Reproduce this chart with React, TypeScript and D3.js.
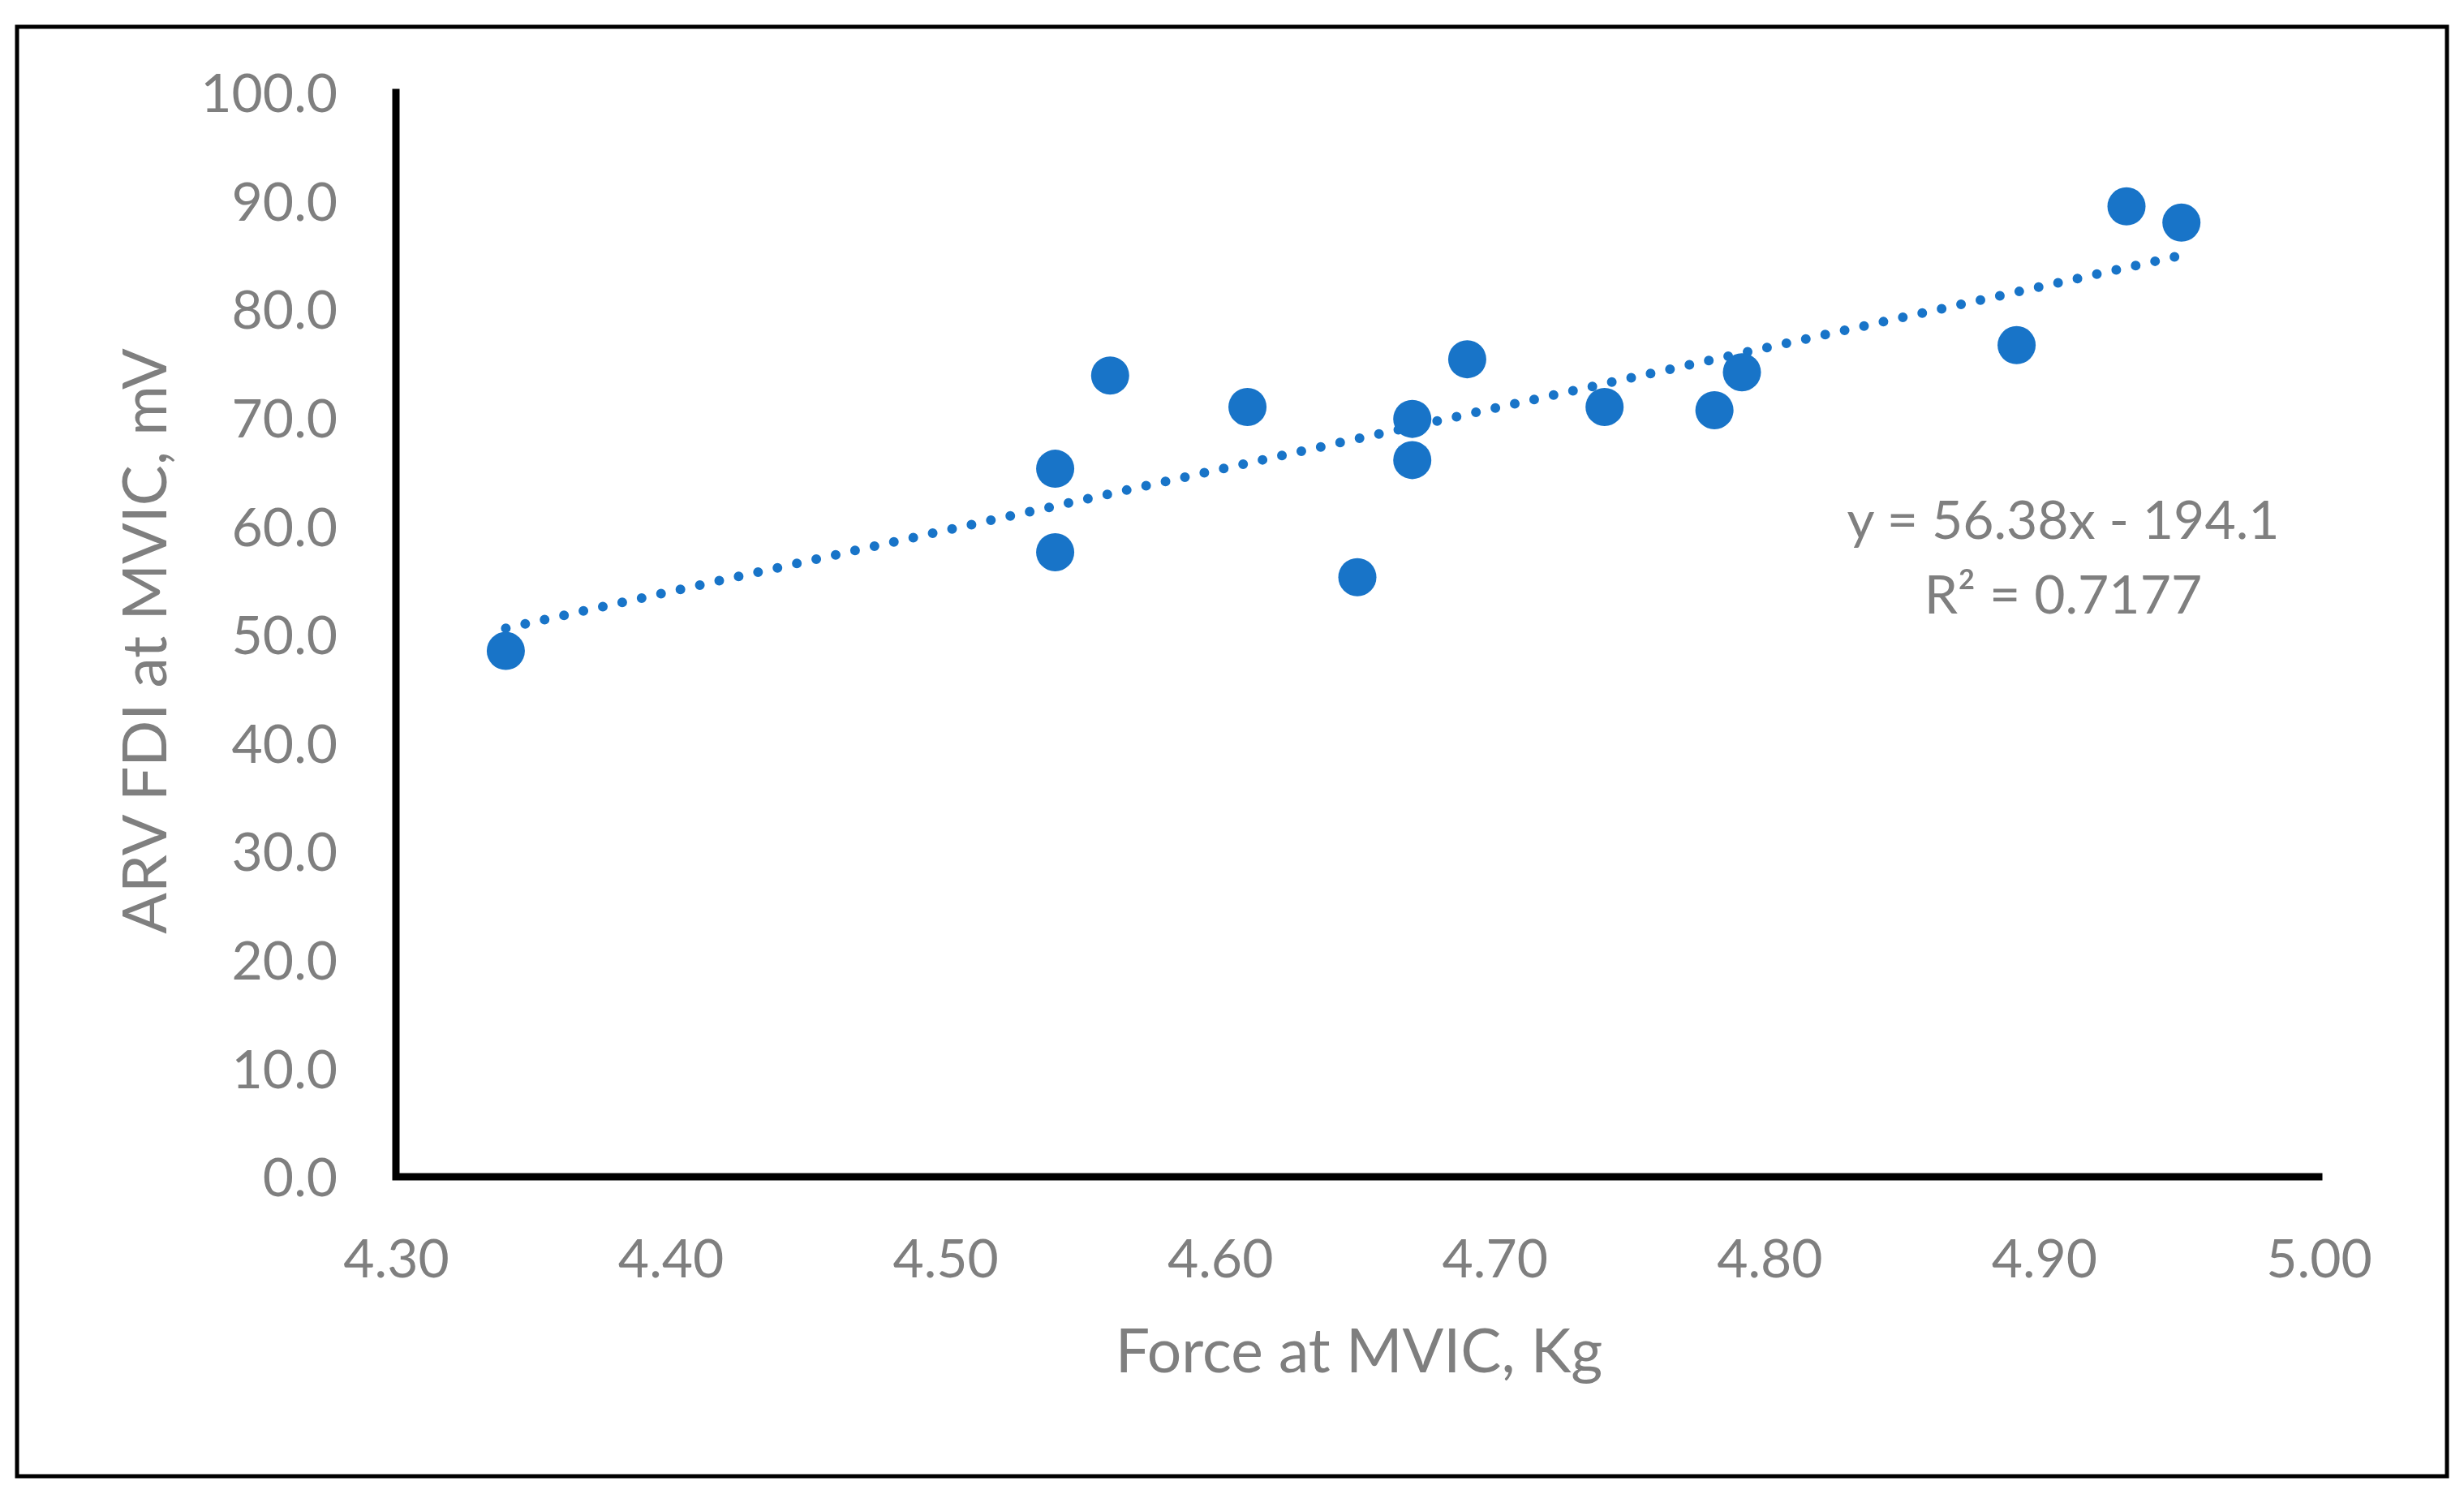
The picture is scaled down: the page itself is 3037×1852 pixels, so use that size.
import React, { useEffect, useRef } from 'react'
import * as d3 from 'd3'

type TPoint = {
  force: number
  arv: number
}

const forceValues = [4.34, 4.54, 4.54, 4.56, 4.61, 4.65, 4.67, 4.67, 4.69, 4.74, 4.78, 4.79, 4.89, 4.93, 4.95]
const arvValues = [48.5, 65.3, 57.6, 73.9, 71.0, 55.3, 69.9, 66.1, 75.4, 71.0, 70.7, 74.2, 76.7, 89.5, 88.0]
const xTicks = [4.3, 4.4, 4.5, 4.6, 4.7, 4.8, 4.9, 5.0]
const yTicks = [0, 10, 20, 30, 40, 50, 60, 70, 80, 90, 100]
const trendSlope = 56.38
const trendIntercept = -194.1
const equationLines = ['y = 56.38x - 194.1', 'R² = 0.7177']

const WIDTH = 3037
const HEIGHT = 1852
const margin = { left: 488, right: 3037 - 2858, top: 114, bottom: 1852 - 1450 }
const BLUE = '#1874C8'
const GREY = '#7F7F7F'
const FONT = 'Lato, "Open Sans", sans-serif'

const App = (): JSX.Element => {
  const ref = useRef<SVGSVGElement>(null)

  useEffect(() => {
    const data: TPoint[] = forceValues.map((f, i) => ({ force: f, arv: arvValues[i] }))
    const svg = d3.select(ref.current)
    svg.selectAll('*').remove()

    const x = d3.scaleLinear().domain([4.3, 5.0]).range([margin.left, WIDTH - margin.right])
    const y = d3.scaleLinear().domain([0, 100]).range([HEIGHT - margin.bottom, margin.top])

    svg
      .append('rect')
      .attr('width', WIDTH)
      .attr('height', HEIGHT)
      .attr('fill', '#ffffff')
    // outer chart border
    svg
      .append('rect')
      .attr('x', 21)
      .attr('y', 33)
      .attr('width', 2995)
      .attr('height', 1786)
      .attr('fill', 'none')
      .attr('stroke', '#000')
      .attr('stroke-width', 5)

    // y axis labels
    svg
      .append('g')
      .attr('transform', 'translate(' + margin.left + ',0)')
      .call(g => {
        g.call(d3.axisLeft(y).tickValues(yTicks).tickSize(0).tickPadding(72).tickFormat(d3.format('.1f')))
        g.select('.domain').remove()
        g.selectAll('.tick text')
          .attr('fill', GREY)
          .attr('font-family', FONT)
          .attr('font-size', 66)
          .attr('dy', '0.36em')
      })

    // x axis labels
    svg
      .append('g')
      .attr('transform', 'translate(0,' + y(0) + ')')
      .call(g => {
        g.call(d3.axisBottom(x).tickValues(xTicks).tickSize(0).tickPadding(0).tickFormat(d3.format('.2f')))
        g.select('.domain').remove()
        g.selectAll('.tick text')
          .attr('fill', GREY)
          .attr('font-family', FONT)
          .attr('font-size', 66)
          .attr('dy', 0)
          .attr('y', 124)
      })

    // axis lines
    svg
      .append('path')
      .attr('d', d3.line()([[x(4.3), y(100)], [x(4.3), y(0)], [x(5.0), y(0)]]))
      .attr('fill', 'none')
      .attr('stroke', '#000')
      .attr('stroke-width', 9)
      .attr('stroke-linecap', 'square')

    // trendline
    const [minF, maxF] = d3.extent(data, d => d.force) as [number, number]
    svg
      .append('path')
      .datum([minF, maxF])
      .attr('fill', 'none')
      .attr('stroke', BLUE)
      .attr('stroke-width', 12)
      .attr('stroke-linecap', 'round')
      .attr('stroke-dasharray', '0 24.5')
      .attr(
        'd',
        d3
          .line<number>()
          .x(d => x(d))
          .y(d => y(trendSlope * d + trendIntercept)),
      )

    svg
      .append('g')
      .selectAll('circle')
      .data(data)
      .join('circle')
      .attr('cx', d => x(d.force))
      .attr('cy', d => y(d.arv))
      .attr('r', 23.5)
      .attr('fill', BLUE)

    // equation label
    svg
      .append('text')
      .attr('text-anchor', 'middle')
      .attr('fill', GREY)
      .attr('font-family', FONT)
      .attr('font-size', 66)
      .selectAll('tspan')
      .data(equationLines)
      .join('tspan')
      .attr('x', 2543)
      .attr('y', (d, i) => 664 + i * 92)
      .text(d => d)

    svg
      .append('text')
      .attr('transform', 'translate(205,' + (y(50) + 8) + ') rotate(-90)')
      .attr('text-anchor', 'middle')
      .attr('fill', GREY)
      .attr('font-family', FONT)
      .attr('font-size', 75)
      .text('ARV FDI at MVIC, mV')

    svg
      .append('text')
      .attr('x', 1675)
      .attr('y', 1691)
      .attr('text-anchor', 'middle')
      .attr('fill', GREY)
      .attr('font-family', FONT)
      .attr('font-size', 75)
      .text('Force at MVIC, Kg')
  }, [])

  return (
    <div style={{ position: 'absolute', left: 0, top: 0 }}>
      <svg ref={ref} width={WIDTH} height={HEIGHT} style={{ display: 'block' }}></svg>
    </div>
  )
}

export default App
